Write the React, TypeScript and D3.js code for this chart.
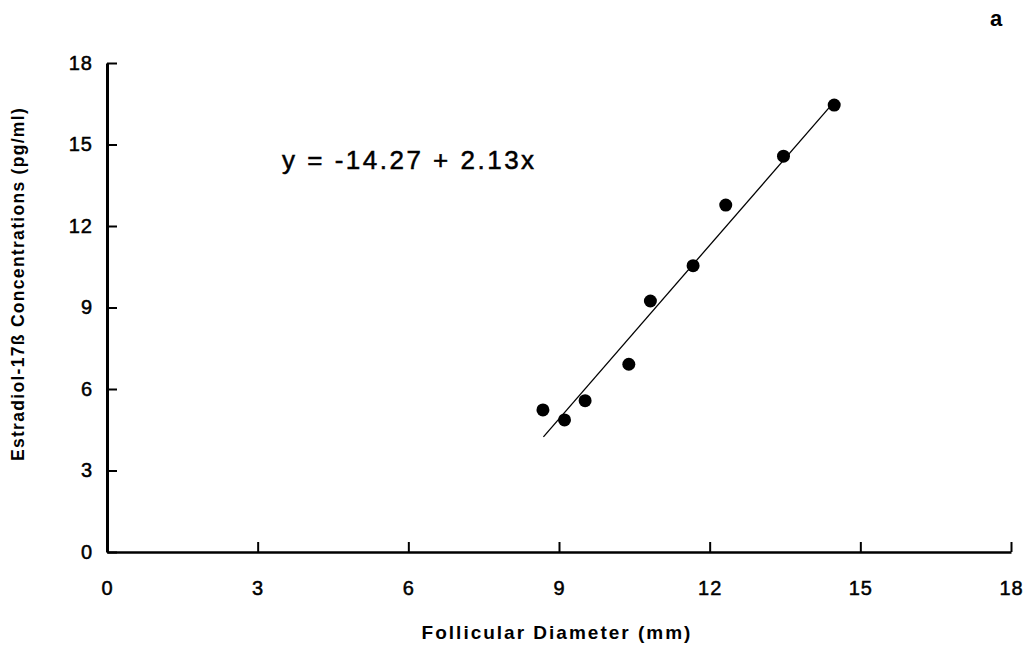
import * as d3 from "d3";
import { useEffect, useRef } from "react";

const diameters = [8.68, 9.11, 9.52, 10.39, 10.82, 11.67, 12.32, 13.47, 14.48];
const estradiol = [5.23, 4.86, 5.57, 6.91, 9.24, 10.54, 12.77, 14.57, 16.45];
const tickValues = [0, 3, 6, 9, 12, 15, 18];
const intercept = -14.27;
const slope = 2.13;
const fitRange = [8.69, 14.5];

export default function App() {
  const width = 1031;
  const height = 657;
  const marginLeft = 107;
  const marginRight = 20;
  const marginTop = 63;
  const marginBottom = 105;

  const svgRef = useRef<SVGSVGElement>(null);

  useEffect(() => {
    const svgEl = d3.select(svgRef.current);
    svgEl.selectAll("*").remove();

    const font = "'Liberation Sans', Arial, Helvetica, sans-serif";

    const xScale = d3.scaleLinear([0, 18], [marginLeft, width - marginRight]);
    const yScale = d3.scaleLinear([0, 18], [height - marginBottom, marginTop]);

    // x-axis (ticks point up)
    const xAxis = d3.axisBottom(xScale)
      .tickValues(tickValues)
      .tickSizeInner(-10)
      .tickSizeOuter(0)
      .tickPadding(29);

    const gx = svgEl.append("g")
      .attr("transform", `translate(0, ${height - marginBottom})`)
      .call(xAxis);
    gx.select(".domain").attr("stroke-width", 2.5);
    gx.selectAll(".tick line").attr("stroke-width", 2);

    // y-axis (ticks point right)
    const yAxis = d3.axisLeft(yScale)
      .tickValues(tickValues)
      .tickSizeInner(-10)
      .tickSizeOuter(0)
      .tickPadding(14);

    const gy = svgEl.append("g")
      .attr("transform", `translate(${marginLeft}, 0)`)
      .call(yAxis);
    gy.select(".domain").attr("stroke-width", 3);
    gy.selectAll(".tick line").attr("stroke-width", 2);

    svgEl.selectAll(".tick text")
      .attr("font-size", 20)
      .attr("font-family", font)
      .attr("letter-spacing", 1)
      .attr("fill", "#000")
      .attr("stroke", "#000")
      .attr("stroke-width", 0.5);

    // regression line
    const fit = d3.line<number>(d => xScale(d), d => yScale(intercept + slope * d));
    svgEl.append("path")
      .attr("fill", "none")
      .attr("stroke", "#000")
      .attr("stroke-width", 1.3)
      .attr("d", fit(fitRange));

    // points
    svgEl.append("g")
      .selectAll("circle")
      .data(diameters)
      .join("circle")
      .attr("cx", d => xScale(d))
      .attr("cy", (d, i) => yScale(estradiol[i]))
      .attr("r", 6.5)
      .attr("fill", "#000");

    // equation
    svgEl.append("text")
      .attr("x", 282)
      .attr("y", 169)
      .attr("font-family", font)
      .attr("font-size", 26)
      .attr("letter-spacing", 2.5)
      .attr("stroke", "#000")
      .attr("stroke-width", 0.5)
      .text("y = -14.27 + 2.13x");

    // axis labels
    svgEl.append("text")
      .attr("x", 557)
      .attr("y", 639)
      .attr("text-anchor", "middle")
      .attr("font-family", font)
      .attr("font-size", 19)
      .attr("font-weight", "bold")
      .attr("letter-spacing", 2)
      .text("Follicular Diameter (mm)");

    svgEl.append("text")
      .attr("transform", `translate(24, ${284}) rotate(-90)`)
      .attr("text-anchor", "middle")
      .attr("font-family", font)
      .attr("font-size", 17.5)
      .attr("font-weight", "bold")
      .attr("letter-spacing", 1.3)
      .text("Estradiol-17ß Concentrations (pg/ml)");

    // panel letter
    svgEl.append("text")
      .attr("x", 996)
      .attr("y", 26)
      .attr("text-anchor", "middle")
      .attr("font-family", font)
      .attr("font-size", 22)
      .attr("font-weight", "bold")
      .text("a");
  }, []);

  return (
    <svg
      ref={svgRef}
      width={width}
      height={height}
      style={{ position: "absolute", left: 0, top: 0, background: "#fff" }}
      xmlns="http://www.w3.org/2000/svg"
    >
    </svg>
  );
}
